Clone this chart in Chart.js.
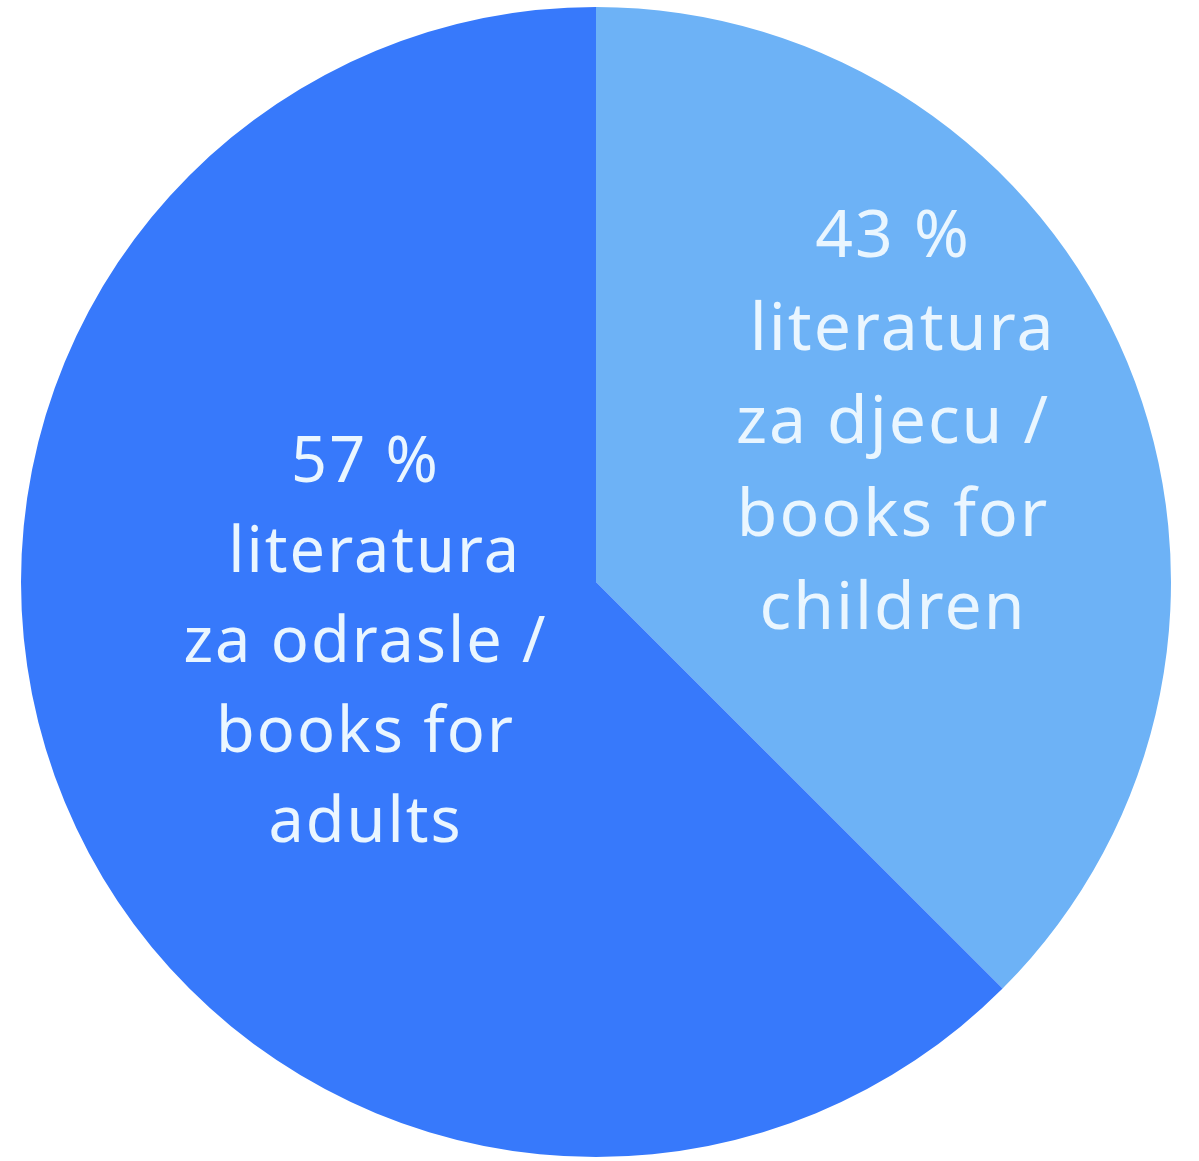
<!DOCTYPE html>
<html>
<head>
<meta charset="utf-8">
<script src="https://cdn.jsdelivr.net/npm/chart.js@4.4.1/dist/chart.umd.min.js"></script>
<style>
  html, body { margin: 0; padding: 0; background: #ffffff; }
  #wrap { width: 1199px; height: 1161px; }
</style>
</head>
<body>
<div id="wrap"><canvas id="chartPie"></canvas></div>
<script>
// data (slice sizes read from the drawn wedges; the boundary leaves the centre at 45 deg)
const categories = ['literatura za djecu / books for children', 'literatura za odrasle / books for adults'];
const shares = [37.5, 62.5];
const labelLines = [
  ['43 %', ' literatura', 'za djecu /', 'books for', 'children'],
  ['57 %', ' literatura', 'za odrasle /', 'books for', 'adults']
];
const sliceColors = ['#6db2f6', '#3779fb'];

// label placement: angle (deg, from 3 o'clock), fraction of radius, line height, font size
const labelSpots = [
  { angle: -28, dist: 0.585, lineH: 93, size: 66 },
  { angle: 165, dist: 0.415, lineH: 90, size: 63 }
];

const sliceText = {
  id: 'sliceText',
  afterDatasetsDraw(chart) {
    const ctx = chart.ctx;
    const arc = chart.getDatasetMeta(0).data[0];
    const cx = arc.x, cy = arc.y, r = arc.outerRadius;
    ctx.save();
    ctx.fillStyle = '#eaf6ff';
    ctx.letterSpacing = '2px';
    ctx.textAlign = 'center';
    ctx.textBaseline = 'middle';
    labelLines.forEach(function(lines, i) {
      const s = labelSpots[i];
      ctx.font = '400 ' + s.size + 'px "Noto Sans", sans-serif';
      const a = s.angle * Math.PI / 180;
      const x = cx + Math.cos(a) * r * s.dist;
      const y = cy + Math.sin(a) * r * s.dist;
      const top = y - (lines.length - 1) * s.lineH / 2;
      lines.forEach(function(t, j) {
        ctx.fillText(t, x, top + j * s.lineH);
      });
    });
    ctx.restore();
  }
};

new Chart(document.getElementById('chartPie'), {
  type: 'pie',
  data: {
    labels: categories,
    datasets: [{
      data: shares,
      backgroundColor: sliceColors,
      borderWidth: 0
    }]
  },
  plugins: [sliceText],
  options: {
    responsive: true,
    maintainAspectRatio: false,
    animation: false,
    layout: { padding: { top: 7, bottom: 4, left: 21, right: 28 } },
    plugins: {
      legend: { display: false },
      tooltip: { enabled: false }
    }
  }
});
</script>
</body>
</html>
